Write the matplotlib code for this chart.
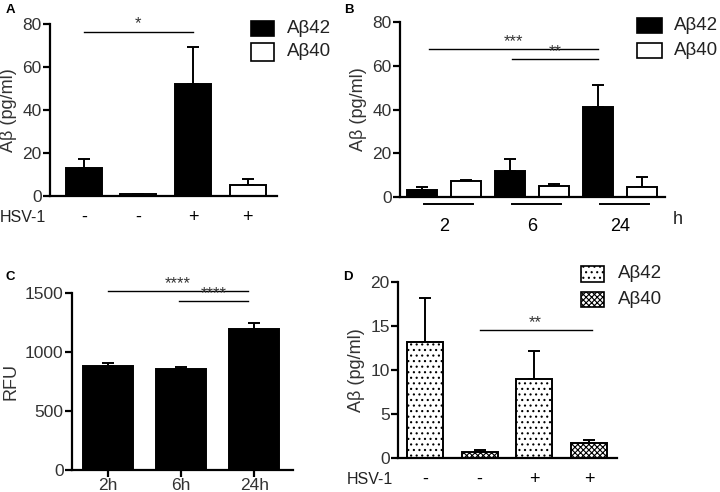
import numpy as np
import matplotlib
matplotlib.use("Agg")
import matplotlib.pyplot as plt

plt.rcParams["font.family"] = ["Liberation Sans", "DejaVu Sans"]
plt.rcParams["hatch.linewidth"] = 0.8

# Panel A: HSV-1 infection, Abeta42 / Abeta40
a_vals = [13.0, 0.7, 52.0, 5.3]
a_err = [4.0, 0.3, 17.5, 2.4]
a_hsv = ["-", "-", "+", "+"]

# Panel B: time course (2, 6, 24 h), Abeta42 and Abeta40 per time point
b_times = ["2", "6", "24"]
b_ab42 = [3.0, 12.0, 41.0]
b_ab42_err = [1.5, 5.5, 10.0]
b_ab40 = [7.2, 5.2, 4.5]
b_ab40_err = [0.6, 0.8, 4.5]

# Panel C: RFU over time
c_labels = ["2h", "6h", "24h"]
c_vals = [885, 855, 1195]
c_err = [20, 15, 50]

# Panel D: hatched Abeta42 / Abeta40
d_vals = [13.2, 0.7, 9.0, 1.7]
d_err = [5.0, 0.2, 3.2, 0.3]
d_hsv = ["-", "-", "+", "+"]

W, H = 720, 492
fig = plt.figure(figsize=(7.2, 4.92), dpi=100)


def box(x0, y0, x1, y1):
    # pixel box (top-left origin) -> figure fraction
    return [x0 / W, 1 - y1 / H, (x1 - x0) / W, (y1 - y0) / H]


def style(ax):
    for s in ["top", "right"]:
        ax.spines[s].set_visible(False)
    for s in ["left", "bottom"]:
        ax.spines[s].set_linewidth(1.6)
    ax.tick_params(axis="y", length=5, width=1.6, labelsize=12.5,
                   labelcolor="#333333", pad=1)
    ax.set_facecolor("none")


def bars(ax, x, v, e, fc, hatch=None, w=0.66):
    ax.bar(x, v, width=w, color=fc, edgecolor="black", linewidth=1.4,
           hatch=hatch, zorder=2)
    ax.errorbar(x, v, yerr=[np.zeros(len(e)), e], fmt="none", ecolor="black",
                elinewidth=1.4, capsize=4, capthick=1.4, zorder=1)


def sig(ax, x0, x1, y, txt):
    ax.plot([x0, x1], [y, y], color="black", lw=1.0, clip_on=False)
    ax.text((x0 + x1) / 2, y, txt, ha="center", va="bottom", fontsize=12,
            color="#333333", linespacing=0.8)


def legend(ax, fcs, hatches, xs, ys, labels):
    for fc, h, y, lab in zip(fcs, hatches, ys, labels):
        r = plt.Rectangle((xs[0] / W, 1 - y[1] / H), (xs[1] - xs[0]) / W,
                          (y[1] - y[0]) / H, transform=fig.transFigure,
                          facecolor=fc, edgecolor="black", lw=1.2, hatch=h)
        fig.add_artist(r)
        fig.text(xs[2] / W, 1 - (y[0] + y[1]) / 2 / H, lab, fontsize=13.5,
                 va="center", ha="left", color="#222222")


# ---- A ----
axA = fig.add_axes(box(50, 24, 277, 196))
style(axA)
xa = np.arange(4)
bars(axA, xa, a_vals, a_err, ["black", "white", "black", "white"])
axA.set_xlim(-0.62, 3.54)
axA.set_ylim(0, 80)
axA.set_yticks([0, 20, 40, 60, 80])
axA.set_xticks(xa, a_hsv)
axA.tick_params(axis="x", length=0, labelsize=13, pad=9)
axA.set_ylabel("Aβ (pg/ml)", fontsize=13, color="#333333", labelpad=4)
sig(axA, 0, 2, 76.5, "*")
fig.text(46 / W, 1 - 218 / H, "HSV-1", ha="right", va="center", fontsize=11.5,
         color="#222222")
legend(axA, ["black", "white"], [None, None], (251, 274, 287),
       [(21, 36), (43, 61)], ["Aβ42", "Aβ40"])
fig.text(6 / W, 1 - 10 / H, "A", fontsize=9.5, fontweight="bold", va="center")

# ---- B ----
axB = fig.add_axes(box(400, 22, 665, 197))
style(axB)
xb = np.arange(3) * 2
bars(axB, xb, b_ab42, b_ab42_err, "black", w=0.68)
bars(axB, xb + 1, b_ab40, b_ab40_err, "white", w=0.68)
axB.set_xlim(-0.5, 5.52)
axB.set_ylim(0, 80)
axB.set_yticks([0, 20, 40, 60, 80])
axB.set_xticks(xb + 0.5, b_times)
axB.tick_params(axis="x", length=0, labelsize=13, pad=15)
axB.set_ylabel("Aβ (pg/ml)", fontsize=13, color="#333333", labelpad=4)
for g in xb:
    axB.plot([g + 0.05, g + 1.15], [-3.2, -3.2], color="black", lw=1.4,
             clip_on=False)
axB.text(5.82, -10.5, "h", ha="center", va="center", fontsize=13,
         color="#222222", clip_on=False)
sig(axB, 0.15, 4.0, 67.7, "***")
sig(axB, 2.05, 4.0, 63.0, "**")
legend(axB, ["black", "white"], [None, None], (637, 662, 674),
       [(18, 33), (43, 58)], ["Aβ42", "Aβ40"])
fig.text(344 / W, 1 - 10 / H, "B", fontsize=9.5, fontweight="bold", va="center")

# ---- C ----
axC = fig.add_axes(box(72, 293, 293, 470))
style(axC)
xc = np.arange(3)
bars(axC, xc, c_vals, c_err, "black", w=0.68)
axC.set_xlim(-0.49, 2.53)
axC.set_ylim(0, 1500)
axC.set_yticks([0, 500, 1000, 1500])
axC.set_xticks(xc, c_labels)
axC.tick_params(axis="x", length=5, width=1.6, labelsize=12.5,
                labelcolor="#333333", pad=1)
axC.set_ylabel("RFU", fontsize=13, color="#333333", labelpad=4)
sig(axC, 0.0, 1.92, 1520, "****")
sig(axC, 0.97, 1.92, 1430, "****")
fig.text(6 / W, 1 - 277 / H, "C", fontsize=9.5, fontweight="bold", va="center")

# ---- D ----
axD = fig.add_axes(box(398, 282, 617, 458))
style(axD)
xd = np.arange(4)
bars(axD, xd, d_vals, d_err, "white", w=0.66)
for p, h in zip(axD.patches, ["...", "xxxxxx", "...", "xxxxxx"]):
    p.set_hatch(h)
axD.set_xlim(-0.49, 3.51)
axD.set_ylim(0, 20)
axD.set_yticks([0, 5, 10, 15, 20])
axD.set_xticks(xd, d_hsv)
axD.tick_params(axis="x", length=0, labelsize=13, pad=9)
axD.set_ylabel("Aβ (pg/ml)", fontsize=13, color="#333333", labelpad=4)
sig(axD, 1.0, 3.05, 14.5, "**")
fig.text(393 / W, 1 - 480 / H, "HSV-1", ha="right", va="center", fontsize=11.5,
         color="#222222")
legend(axD, ["white", "white"], ["...", "xxxxxx"], (581, 604, 618),
       [(266, 282), (292, 307)], ["Aβ42", "Aβ40"])
fig.text(343 / W, 1 - 277 / H, "D", fontsize=9.5, fontweight="bold", va="center")

fig.savefig("out.png", dpi=100, facecolor="white")
